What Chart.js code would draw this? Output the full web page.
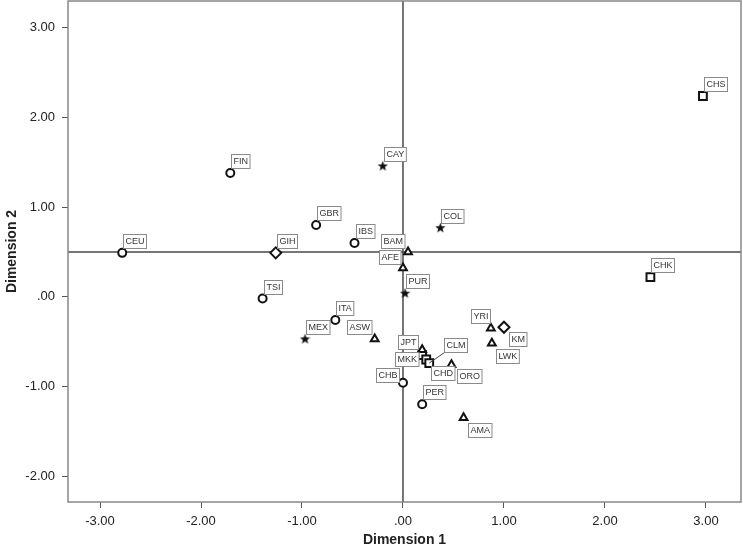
<!DOCTYPE html>
<html>
<head>
<meta charset="utf-8">
<script src="https://cdn.jsdelivr.net/npm/chart.js@4.4.0/dist/chart.umd.min.js"></script>
<style>
  html, body { margin: 0; padding: 0; background: #fff; }
  #wrap { width: 743px; height: 552px; }
</style>
</head>
<body>
<div id="wrap"><canvas id="chart"></canvas></div>
<script>
// Population coordinates on the two dimensions, grouped by marker type
const circleCodes = ['CEU', 'FIN', 'GBR', 'IBS', 'TSI', 'ITA', 'CHB', 'PER'];
const circleDim1  = [-2.78, -1.71, -0.86, -0.48, -1.39, -0.67, 0.00, 0.19];
const circleDim2  = [0.49, 1.38, 0.80, 0.60, -0.02, -0.26, -0.96, -1.20];

const starCodes = ['CAY', 'COL', 'PUR', 'MEX'];
const starDim1  = [-0.20, 0.37, 0.02, -0.97];
const starDim2  = [1.46, 0.77, 0.04, -0.47];

const triangleCodes = ['BAM', 'AFE', 'ASW', 'JPT', 'ORO', 'AMA', 'YRI', 'LWK'];
const triangleDim1  = [0.05, 0.00, -0.28, 0.19, 0.48, 0.60, 0.87, 0.88];
const triangleDim2  = [0.50, 0.32, -0.47, -0.59, -0.76, -1.35, -0.35, -0.52];

const diamondCodes = ['GIH', 'KM'];
const diamondDim1  = [-1.26, 1.00];
const diamondDim2  = [0.49, -0.34];

const squareCodes = ['CHS', 'CHK', 'MKK', 'CHD', 'CLM'];
const squareDim1  = [2.97, 2.45, 0.19, 0.23, 0.26];
const squareDim2  = [2.24, 0.22, -0.65, -0.70, -0.74];

const xTicks = [-3, -2, -1, 0, 1, 2, 3];
const yTicks = [-2, -1, 0, 1, 2, 3];

// label box placement relative to the point (px), default is up-right
const labelOffset = {
  ASW: [-28, -19], JPT: [-24, -15], MKK: [-27, -3], CHB: [-27, -15],
  CLM: [15, -25], CHD: [5, 7], ORO: [6, 4], AMA: [4, 5], YRI: [-20, -19],
  KM: [5, 5], LWK: [4, 6], BAM: [-27, -18], AFE: [-24, -18]
};
const leaderLabels = ['CLM'];

// filled five point star used as a point style
function makeStar() {
  const c = document.createElement('canvas');
  c.width = 11; c.height = 11;
  const g = c.getContext('2d');
  g.fillStyle = '#111';
  g.beginPath();
  for (let i = 0; i < 10; i++) {
    const r = i % 2 === 0 ? 5.4 : 2.3;
    const a = -Math.PI / 2 + i * Math.PI / 5;
    g.lineTo(5.5 + r * Math.cos(a), 5.8 + r * Math.sin(a));
  }
  g.closePath();
  g.fill();
  return c;
}

function toPoints(codes, xs, ys) {
  return codes.map((c, i) => ({ x: xs[i], y: ys[i], code: c }));
}

function fmt(v) {
  let s = Math.abs(v).toFixed(2);
  if (s.startsWith('0')) s = s.slice(1);
  return (v < 0 ? '-' : '') + s;
}

const baseDs = { borderColor: '#111', backgroundColor: '#fff', borderWidth: 2 };

const datasets = [
  Object.assign({ data: toPoints(circleCodes, circleDim1, circleDim2), pointStyle: 'circle', pointRadius: 4 }, baseDs),
  Object.assign({ data: toPoints(triangleCodes, triangleDim1, triangleDim2), pointStyle: 'triangle', pointRadius: 4.5 }, baseDs),
  Object.assign({ data: toPoints(diamondCodes, diamondDim1, diamondDim2), pointStyle: 'rectRot', pointRadius: 5.5 }, baseDs),
  Object.assign({ data: toPoints(squareCodes, squareDim1, squareDim2), pointStyle: 'rect', pointRadius: 5.5 }, baseDs),
  { data: toPoints(starCodes, starDim1, starDim2), pointStyle: makeStar(), pointRadius: 5 }
];

// frame and reference lines (x = 0, y = 0.5)
const framePlugin = {
  id: 'frame',
  beforeDatasetsDraw(chart) {
    const { ctx, chartArea: a, scales } = chart;
    ctx.save();
    ctx.strokeStyle = '#4a4a4a';
    ctx.lineWidth = 1.5;
    const x0 = scales.x.getPixelForValue(0);
    const y0 = scales.y.getPixelForValue(0.5);
    ctx.beginPath();
    ctx.moveTo(x0, a.top); ctx.lineTo(x0, a.bottom);
    ctx.moveTo(a.left, y0); ctx.lineTo(a.right, y0);
    ctx.stroke();
    ctx.strokeStyle = '#888';
    ctx.strokeRect(a.left, a.top, a.right - a.left, a.bottom - a.top);
    ctx.restore();
  }
};

// boxed population labels
const labelPlugin = {
  id: 'boxLabels',
  afterDatasetsDraw(chart) {
    const ctx = chart.ctx;
    ctx.save();
    ctx.font = '9px "Liberation Sans", Arial, sans-serif';
    ctx.textBaseline = 'middle';
    chart.data.datasets.forEach((ds, di) => {
      const meta = chart.getDatasetMeta(di);
      ds.data.forEach((p, i) => {
        const el = meta.data[i];
        const off = labelOffset[p.code] || [1, -19];
        const w = ctx.measureText(p.code).width + 4;
        const h = 14;
        const bx = Math.round(el.x + off[0]) + 0.5;
        const by = Math.round(el.y + off[1]) + 0.5;
        if (leaderLabels.includes(p.code)) {
          ctx.strokeStyle = '#444';
          ctx.lineWidth = 1;
          ctx.beginPath();
          ctx.moveTo(el.x, el.y);
          ctx.lineTo(bx, by + h);
          ctx.stroke();
        }
        ctx.fillStyle = '#fff';
        ctx.fillRect(bx, by, w, h);
        ctx.strokeStyle = '#8a8a8a';
        ctx.lineWidth = 1;
        ctx.strokeRect(bx, by, w, h);
        ctx.fillStyle = '#333';
        ctx.fillText(p.code, bx + 2, by + h / 2 + 0.5);
      });
    });
    ctx.restore();
  }
};

const tickFont = { family: '"Liberation Sans", Arial, sans-serif', size: 13 };
const titleFont = { family: '"Liberation Sans", Arial, sans-serif', size: 14, weight: 'bold' };

new Chart(document.getElementById('chart'), {
  type: 'scatter',
  data: { datasets },
  options: {
    responsive: true,
    maintainAspectRatio: false,
    animation: false,
    layout: { autoPadding: false, padding: { top: 1, right: 2, left: 0, bottom: 0 } },
    plugins: { legend: { display: false }, tooltip: { enabled: false } },
    scales: {
      x: {
        min: -3.317, max: 3.347,
        afterFit(s) { s.height = 50; s.paddingLeft = 0; s.paddingRight = 0; },
        afterBuildTicks(s) { s.ticks = xTicks.map(v => ({ value: v })); },
        ticks: { callback: v => fmt(v), color: '#222', font: tickFont, padding: 6, maxRotation: 0 },
        grid: { drawOnChartArea: false, drawTicks: true, tickLength: 6, color: '#555' },
        border: { display: false },
        title: { display: true, text: 'Dimension 1', color: '#222', font: titleFont, padding: { top: 0, bottom: 3 } }
      },
      y: {
        min: -2.29, max: 3.30,
        afterFit(s) { s.width = 68; s.paddingTop = 0; s.paddingBottom = 0; },
        afterBuildTicks(s) { s.ticks = yTicks.map(v => ({ value: v })); },
        ticks: { callback: v => fmt(v), color: '#222', font: tickFont, padding: 7 },
        grid: { drawOnChartArea: false, drawTicks: true, tickLength: 6, color: '#555' },
        border: { display: false },
        title: { display: true, text: 'Dimension 2', color: '#222', font: titleFont, padding: { top: 4, bottom: 0 } }
      }
    }
  },
  plugins: [framePlugin, labelPlugin]
});
</script>
</body>
</html>
